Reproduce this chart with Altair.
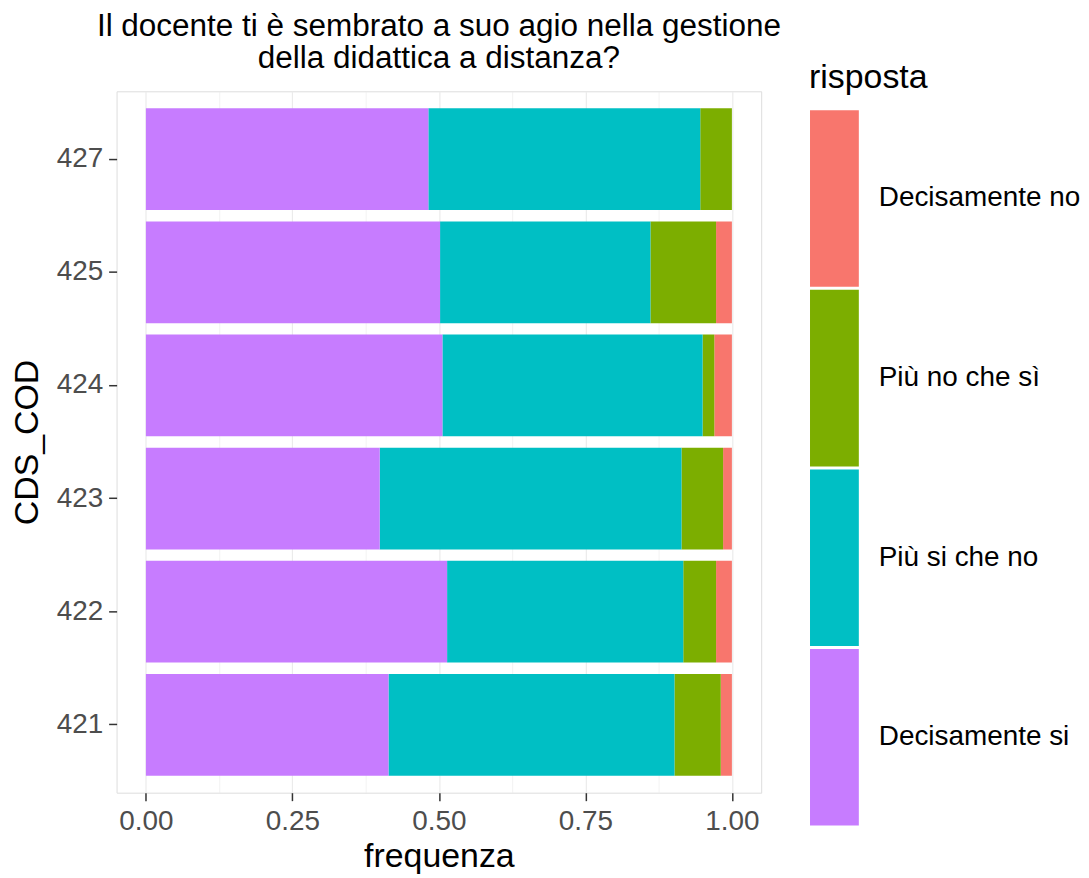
import altair as alt
import pandas as pd

# ---- data ----
cds = ["421", "422", "423", "424", "425", "427"]
responses = ["Decisamente no", "Più no che sì", "Più si che no", "Decisamente si"]
colors = ["#F8766D", "#7CAE00", "#00BFC4", "#C77CFF"]
stack_order = [3, 2, 1, 0]  # Decisamente si stacked first (left)

decisamente_si = [0.414, 0.514, 0.399, 0.506, 0.502, 0.482]
piu_si_che_no = [0.488, 0.403, 0.515, 0.444, 0.359, 0.464]
piu_no_che_si = [0.079, 0.056, 0.071, 0.020, 0.112, 0.054]
decisamente_no = [0.019, 0.027, 0.015, 0.030, 0.027, 0.000]

x_grid_values = [0, 0.125, 0.25, 0.375, 0.5, 0.625, 0.75, 0.875, 1.0]

title_lines = ["Il docente ti è sembrato a suo agio nella gestione",
               "della didattica a distanza?"]

FONT = "Liberation Sans"

series = {
    "Decisamente no": decisamente_no,
    "Più no che sì": piu_no_che_si,
    "Più si che no": piu_si_che_no,
    "Decisamente si": decisamente_si,
}
rows = []
for r, o in zip(responses, stack_order):
    for c, v in zip(cds, series[r]):
        rows.append({"CDS_COD": c, "risposta": r, "frequenza": v, "ord": o})
df = pd.DataFrame(rows)

legend_df = pd.DataFrame({"risposta": responses})
legend_title_df = pd.DataFrame({"t": ["risposta"]})

color = alt.Color("risposta:N", scale=alt.Scale(domain=responses, range=colors), legend=None)

major_test = "(datum.value * 4) % 1 == 0"

bars = alt.Chart(df).mark_bar(strokeWidth=0).encode(
    x=alt.X(
        "frequenza:Q",
        stack="zero",
        scale=alt.Scale(domain=[-0.05, 1.05], nice=False, zero=False),
        axis=alt.Axis(
            values=x_grid_values,
            labelExpr=f"{major_test} ? format(datum.value, '.2f') : ''",
            tickOpacity=alt.condition(major_test, alt.value(1), alt.value(0)),
            gridWidth=alt.condition(major_test, alt.value(1.2), alt.value(0.6)),
            gridColor="#EBEBEB",
            domain=False,
            tickSize=8,
            tickColor="#333333",
            tickWidth=1.5,
            labelPadding=7,
            labelFontSize=28,
            labelColor="#4D4D4D",
            labelFont=FONT,
            titleFont=FONT,
            titleFontSize=34,
            titleFontWeight="normal",
            titleColor="#000000",
            titlePadding=4,
        ),
    ),
    y=alt.Y(
        "CDS_COD:N",
        sort="descending",
        scale=alt.Scale(paddingInner=0.1, paddingOuter=0.15),
        axis=alt.Axis(
            bandPosition=0.5,
            gridColor="#EBEBEB",
            gridWidth=1.2,
            domain=False,
            tickSize=8,
            tickColor="#333333",
            tickWidth=1.5,
            labelPadding=6,
            labelFontSize=28,
            labelColor="#4D4D4D",
            labelFont=FONT,
            titleFont=FONT,
            titleFontSize=34,
            titleFontWeight="normal",
            titleColor="#000000",
            titlePadding=12,
        ),
    ),
    color=color,
    order=alt.Order("ord:Q"),
)

legend_y = alt.Y(
    "risposta:N",
    sort=responses,
    scale=alt.Scale(range=[19, 737], paddingInner=0.017, paddingOuter=0),
    axis=None,
)

legend_rect = alt.Chart(legend_df).mark_rect().encode(
    x=alt.value(696),
    x2=alt.value(745),
    y=legend_y,
    color=color,
)

legend_text = alt.Chart(legend_df).mark_text(
    align="left", baseline="middle", font=FONT, fontSize=28, color="#000000"
).encode(
    x=alt.value(765),
    y=legend_y,
    text="risposta:N",
)

legend_title = alt.Chart(legend_title_df).mark_text(
    align="left", baseline="alphabetic", font=FONT, fontSize=34, color="#000000"
).encode(
    x=alt.value(695),
    y=alt.value(-3),
    text="t:N",
)

legend = alt.layer(legend_rect, legend_text, legend_title)

chart = alt.layer(bars, legend).resolve_scale(y="independent").properties(
    width=647,
    height=704,
    padding={"left": 2, "top": 1, "right": 0, "bottom": 0},
    title=alt.TitleParams(
        text=title_lines,
        anchor="middle",
        frame="group",
        font=FONT,
        fontSize=31.6,
        fontWeight="normal",
        lineHeight=32,
        color="#000000",
        offset=-13,
    ),
).configure_view(
    stroke="#8a8a8a",
    strokeWidth=1.5,
).configure(background="#FFFFFF")

chart.save("out.html", embed_options={"renderer": "svg", "actions": False})
